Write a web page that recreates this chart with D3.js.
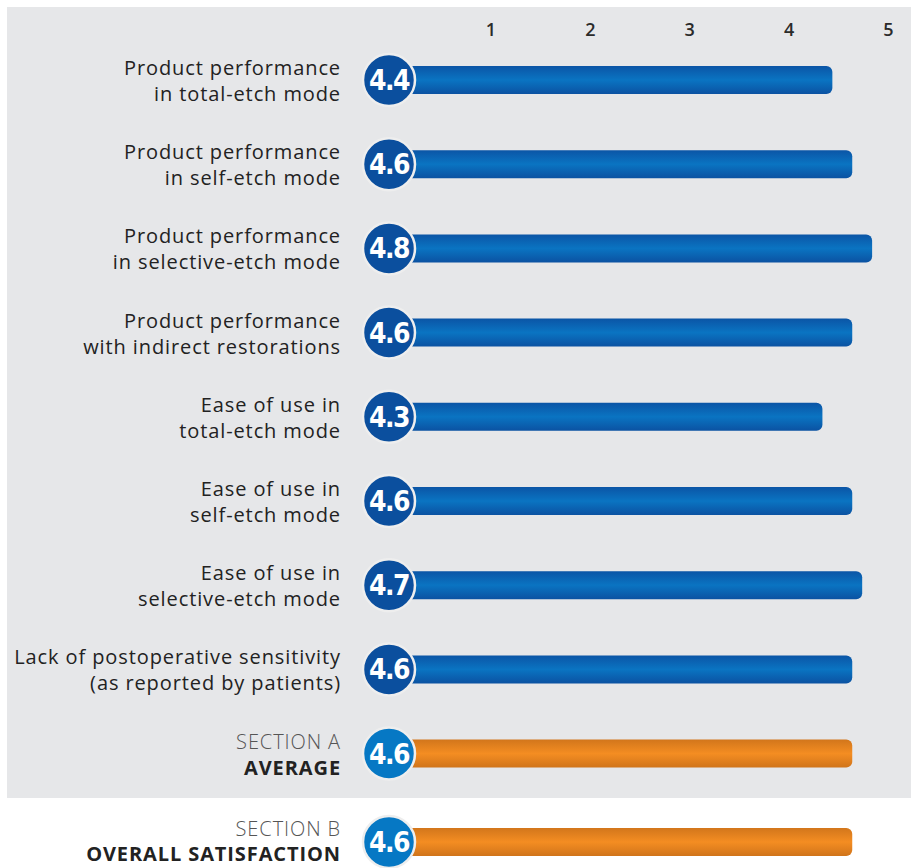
<!DOCTYPE html>
<html>
<head>
<meta charset="utf-8">
<script src="https://cdn.jsdelivr.net/npm/d3@7"></script>
<style>
  body { margin: 0; background: #fff; }
  svg { display: block; }
</style>
</head>
<body>
<div id="container"></div>
<script>
// data
let labelLine1 = ["Product performance", "Product performance", "Product performance", "Product performance",
  "Ease of use in", "Ease of use in", "Ease of use in", "Lack of postoperative sensitivity", "SECTION A", "SECTION B"];
let labelLine2 = ["in total-etch mode", "in self-etch mode", "in selective-etch mode", "with indirect restorations",
  "total-etch mode", "self-etch mode", "selective-etch mode", "(as reported by patients)", "AVERAGE", "OVERALL SATISFACTION"];
let scores = [4.4, 4.6, 4.8, 4.6, 4.3, 4.6, 4.7, 4.6, 4.6, 4.6];
let isSummary = [false, false, false, false, false, false, false, false, true, true];
let tickValues = [1, 2, 3, 4, 5];

let w = 911;
let h = 868;
let rowStep = 84.2;
let firstRow = 80;
let barHeight = 28;
let circleR = 26;
let fontName = "'Open Sans', sans-serif";

let viz = d3.select("#container").append("svg")
  .attr("width", w)
  .attr("height", h);

let defs = viz.append("defs");

let blueGrad = defs.append("linearGradient").attr("id", "blueGrad")
  .attr("x1", 0).attr("y1", 0).attr("x2", 0).attr("y2", 1);
blueGrad.append("stop").attr("offset", "0%").attr("stop-color", "#0b55a6");
blueGrad.append("stop").attr("offset", "50%").attr("stop-color", "#0a74c2");
blueGrad.append("stop").attr("offset", "100%").attr("stop-color", "#0b52a2");

let orangeGrad = defs.append("linearGradient").attr("id", "orangeGrad")
  .attr("x1", 0).attr("y1", 0).attr("x2", 0).attr("y2", 1);
orangeGrad.append("stop").attr("offset", "0%").attr("stop-color", "#d2761b");
orangeGrad.append("stop").attr("offset", "50%").attr("stop-color", "#f48d22");
orangeGrad.append("stop").attr("offset", "100%").attr("stop-color", "#d0741a");

// grey panel behind section A rows
viz.append("rect")
  .attr("x", 7)
  .attr("y", 7)
  .attr("width", w - 7)
  .attr("height", 791)
  .attr("fill", "#e6e7e9");

let xScale = d3.scaleLinear().domain([0, 5]).range([391, 888]);

function yFunc(i) {
  // last row sits below the panel, a bit further down
  if (i === scores.length - 1) return 842;
  return firstRow + i * rowStep;
}

// axis on top
let xAxis = d3.axisTop(xScale)
  .tickValues(tickValues)
  .tickFormat(d3.format("d"))
  .tickSize(0)
  .tickPadding(0);

let axisG = viz.append("g")
  .attr("transform", "translate(0,36)")
  .call(xAxis);
axisG.select(".domain").remove();
axisG.selectAll("text")
  .attr("font-family", fontName)
  .attr("font-size", 18)
  .attr("font-weight", 600)
  .attr("fill", "#2b2b2b");

let rows = viz.selectAll(".row").data(scores)
  .enter()
  .append("g")
  .attr("class", "row")
  .attr("transform", function(d, i) { return "translate(0," + yFunc(i) + ")"; });

// bars
rows.append("rect")
  .attr("x", xScale(0))
  .attr("y", -barHeight / 2)
  .attr("width", function(d) { return xScale(d) + 4 - xScale(0); })
  .attr("height", barHeight)
  .attr("rx", 6)
  .attr("fill", function(d, i) { return isSummary[i] ? "url(#orangeGrad)" : "url(#blueGrad)"; });

// score circles
rows.append("circle")
  .attr("cx", xScale(0) - 2)
  .attr("cy", 0)
  .attr("r", circleR)
  .attr("fill", function(d, i) { return isSummary[i] ? "#0678c4" : "#0b4f9e"; })
  .attr("stroke", "#eeeeee")
  .attr("stroke-width", 2.5);

rows.append("text")
  .attr("x", xScale(0) - 2)
  .attr("y", 0)
  .attr("dy", "0.36em")
  .attr("text-anchor", "middle")
  .attr("font-family", "'DejaVu Sans Condensed', 'DejaVu Sans', sans-serif")
  .attr("font-weight", "bold")
  .attr("font-size", 28)
  .attr("letter-spacing", -1.5)
  .attr("fill", "#ffffff")
  .text(function(d) { return d3.format(".1f")(d); });

// labels
let labels = rows.append("text")
  .attr("text-anchor", "end")
  .attr("font-family", fontName)
  .attr("font-size", 20)
  .attr("letter-spacing", 0.9)
  .attr("fill", "#222222");

labels.append("tspan")
  .attr("x", 341)
  .attr("y", function(d, i) { return i === scores.length - 1 ? -6 : -5; })
  .attr("font-weight", function(d, i) { return isSummary[i] ? 300 : 500; })
  .attr("fill", function(d, i) { return isSummary[i] ? "#555555" : "#222222"; })
  .text(function(d, i) { return labelLine1[i]; });

labels.append("tspan")
  .attr("x", 341)
  .attr("y", function(d, i) { return i === scores.length - 1 ? 19 : 21; })
  .attr("font-weight", function(d, i) { return isSummary[i] ? 700 : 500; })
  .text(function(d, i) { return labelLine2[i]; });
</script>
</body>
</html>
